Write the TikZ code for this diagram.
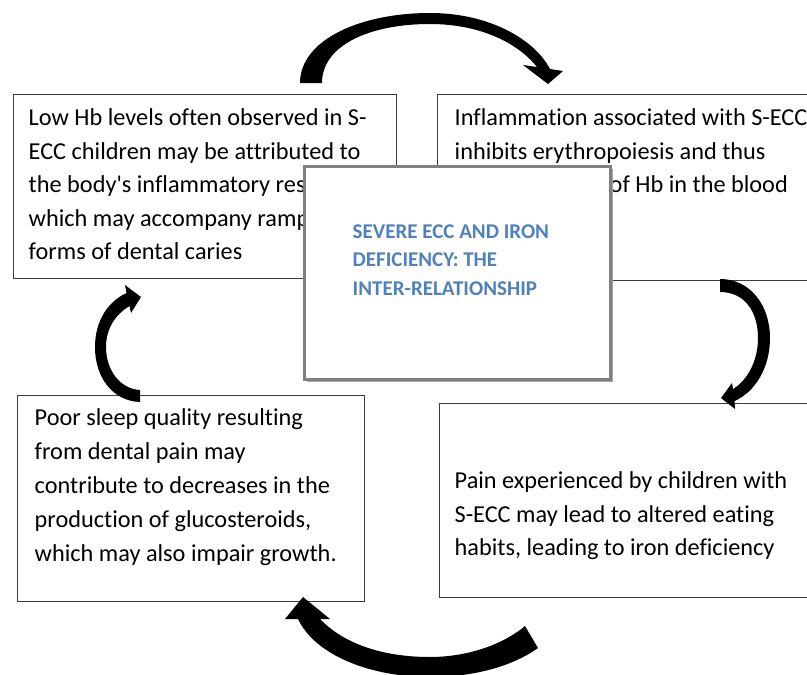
\documentclass[tikz,border=0pt]{standalone}
\usepackage{fontspec}
\setmainfont{Carlito}[Ligatures={TeX,NoCommon}]
\usetikzlibrary{positioning,shadows}
\definecolor{titleblue}{RGB}{79,129,189}
\definecolor{boxline}{RGB}{60,60,60}

\begin{document}
\begin{tikzpicture}[x=1pt, y=-1pt,
  panel/.style={draw=boxline, line width=1.3pt, anchor=north west, inner sep=0pt},
  boxtext/.style={align=left, inner sep=0pt, font=\fontsize{24.3}{33.5}\selectfont},
  hub/.style={draw=gray, line width=3pt, fill=white, anchor=north west, inner sep=0pt,
    drop shadow={shadow xshift=3pt, shadow yshift=-3pt, fill=gray!70, opacity=1}},
  hubtext/.style={align=left, inner sep=0pt, text=titleblue, font=\fontsize{21}{28.5}\selectfont\bfseries},
  flowarrow/.style={fill=black, draw=none}]

\useasboundingbox (0,0) rectangle (807,675);
\clip (0,0) rectangle (807,675);

\node[panel, minimum width=383pt, minimum height=184pt] (lowhb) at (12.5,93.5) {};
\node[boxtext, below right=15pt and 16pt of lowhb.north west] (lowhbtext)
  {Low Hb levels often observed in S-\\ECC children may be attributed to\\the body\textquotesingle s inflammatory response\\which may accompany rampant\\forms of dental caries};

\node[panel, minimum width=400pt, minimum height=186pt] (inflam) at (436.5,93.5) {};
\node[boxtext, below right=15pt and 18pt of inflam.north west] (inflamtext)
  {Inflammation associated with S-ECC\\inhibits erythropoiesis and thus\\\hspace*{155pt}of Hb in the blood};

\node[hub, minimum width=306pt, minimum height=213pt] (hub) at (302.5,164.5) {};
\node[hubtext, below right=60pt and 50pt of hub.north west] (hubtext)
  {SEVERE ECC AND IRON\\DEFICIENCY: THE\\INTER-RELATIONSHIP};

\node[panel, minimum width=347pt, minimum height=206pt] (sleep) at (16.5,394.5) {};
\node[boxtext, below right=14pt and 18pt of sleep.north west, font=\fontsize{24.3}{34}\selectfont] (sleeptext)
  {Poor sleep quality resulting\\from dental pain may\\contribute to decreases in the\\production of glucosteroids,\\which may also impair growth.};

\node[panel, minimum width=400pt, minimum height=194pt] (pain) at (438.5,402.5) {};
\node[boxtext, below right=69pt and 16pt of pain.north west] (paintext)
  {Pain experienced by children with\\S-ECC may lead to altered eating\\habits, leading to iron deficiency};

\fill[flowarrow] (300,83) .. controls (300,40) and (360,13) .. (430,13)
  .. controls (490,13) and (535,40) .. (550,69) -- (563,71) -- (548,84) -- (523,65) -- (537,67)
  .. controls (518,43) and (480,24) .. (430,24) .. controls (370,24) and (322,45) .. (322,83) -- cycle;
\fill[flowarrow] (720,279) .. controls (750,279) and (770,305) .. (770,338)
  .. controls (770,368) and (755,392) .. (734.5,401) -- (735,409) -- (721,398) -- (732,383) -- (733,389)
  .. controls (748,380) and (758,360) .. (758,338) .. controls (758,312) and (745,292) .. (720,292) -- cycle;
\fill[flowarrow] (303,597) -- (330,619) -- (320,619) .. controls (345,645) and (385,657) .. (430,657)
  .. controls (470,657) and (505,643) .. (525,626) -- (538,648)
  .. controls (510,668) and (470,677) .. (430,677) .. controls (370,677) and (315,655) .. (298,619)
  -- (285,619) -- cycle;
\fill[flowarrow] (140,402) .. controls (113,401) and (95,378) .. (95,347)
  .. controls (95,322) and (107,302) .. (126.5,293) -- (125,285) -- (141,297) -- (131,313) -- (129.5,306)
  .. controls (116,314) and (106,328) .. (106,347) .. controls (106,370) and (120,389) .. (140,390) -- cycle;
\end{tikzpicture}
\end{document}
